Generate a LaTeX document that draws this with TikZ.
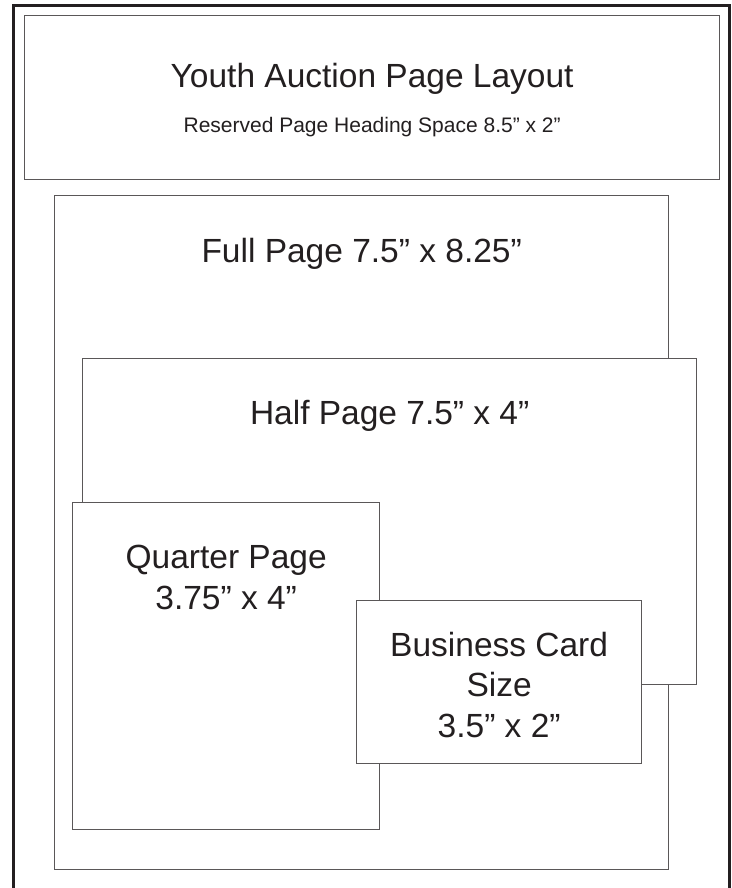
\documentclass[tikz,border=0pt]{standalone}
\usepackage{fontspec}
\setmainfont{Liberation Sans}
\usetikzlibrary{positioning}
\definecolor{ink}{HTML}{231F20}
\tikzset{
  sizebox/.style={draw=ink!75, line width=1.3pt, fill=white, anchor=north west, inner sep=0pt},
  biglabel/.style={font=\fontsize{33.5}{40.5}\selectfont, text=ink, align=center, inner sep=0pt, anchor=north},
  smalllabel/.style={font=\fontsize{21}{24}\selectfont, text=ink, inner sep=0pt, anchor=north},
}
\begin{document}
\begin{tikzpicture}[x=1pt,y=-1pt] % 1pt = 1px, y down
\useasboundingbox (0,0) rectangle (731,888);
% outer page frame (runs off the bottom)
\draw[ink, line width=3.5pt] (13.7,900) -- (13.7,5.5) -- (729.5,5.5) -- (729.5,900);
% reserved heading
\node[sizebox, minimum width=695pt, minimum height=164pt] (heading) at (24,15) {};
\node[biglabel] (headtitle) at ([yshift=-48pt]heading.north) {Youth Auction Page Layout};
\node[smalllabel] (headsub) at ([yshift=-102pt]heading.north) {Reserved Page Heading Space 8.5” x 2”};
% full page
\node[sizebox, minimum width=614pt, minimum height=674pt] (full) at (54,195) {};
\node[biglabel] (fulltext) at ([yshift=-43pt]full.north) {Full Page 7.5” x 8.25”};
% half page
\node[sizebox, minimum width=614pt, minimum height=326pt] (half) at (82,358) {};
\node[biglabel] (halftext) at ([yshift=-42pt]half.north) {Half Page 7.5” x 4”};
% quarter page
\node[sizebox, minimum width=307pt, minimum height=327pt] (quarter) at (72,502) {};
\node[biglabel] (quartertext) at ([yshift=-43pt]quarter.north) {Quarter Page\\3.75” x 4”};
% business card
\node[sizebox, minimum width=285pt, minimum height=163pt] (card) at (356,600) {};
\node[biglabel] (cardtext) at ([yshift=-32pt]card.north) {Business Card\\Size\\3.5” x 2”};
\end{tikzpicture}
\end{document}
